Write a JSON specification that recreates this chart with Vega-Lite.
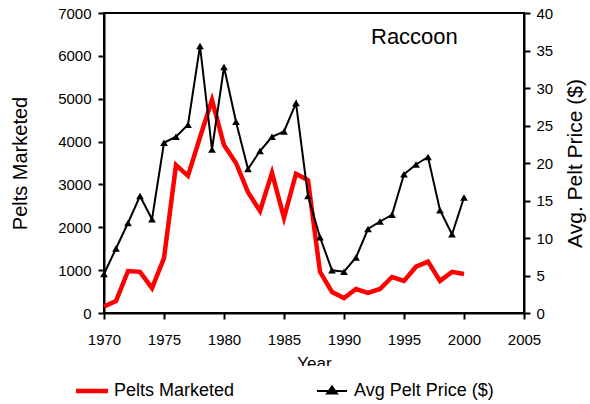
{
  "$schema": "https://vega.github.io/schema/vega-lite/v6.json",
  "width": 420,
  "height": 300,
  "autosize": {"type": "none"},
  "padding": {"left": 104, "top": 13, "right": 66, "bottom": 91},
  "background": "white",
  "title": {"text": "Raccoon", "anchor": "start", "frame": "group", "dx": 267, "offset": -43, "fontSize": 22, "font": "Liberation Sans", "fontWeight": "normal", "color": "black"},
  "config": {
    "font": "Liberation Sans",
    "view": {"stroke": "black", "strokeWidth": 2},
    "axis": {"grid": false, "domainColor": "black", "domainWidth": 2, "tickColor": "black", "tickWidth": 2, "labelFont": "Liberation Sans", "labelFontSize": 15, "labelColor": "black", "titleFont": "Liberation Sans", "titleFontSize": 20, "titleFontWeight": "normal", "titleColor": "black", "labelFlush": false}
  },
  "data": {"values": [
    {"year": 1970, "pelts": 150, "price": 5.2},
    {"year": 1971, "pelts": 280, "price": 8.6},
    {"year": 1972, "pelts": 980, "price": 12.0},
    {"year": 1973, "pelts": 960, "price": 15.6},
    {"year": 1974, "pelts": 580, "price": 12.5},
    {"year": 1975, "pelts": 1280, "price": 22.7},
    {"year": 1976, "pelts": 3450, "price": 23.5},
    {"year": 1977, "pelts": 3200, "price": 25.1},
    {"year": 1978, "pelts": 4100, "price": 35.6},
    {"year": 1979, "pelts": 4970, "price": 21.8},
    {"year": 1980, "pelts": 3920, "price": 32.8},
    {"year": 1981, "pelts": 3500, "price": 25.5},
    {"year": 1982, "pelts": 2820, "price": 19.2},
    {"year": 1983, "pelts": 2380, "price": 21.6},
    {"year": 1984, "pelts": 3270, "price": 23.5},
    {"year": 1985, "pelts": 2220, "price": 24.2},
    {"year": 1986, "pelts": 3250, "price": 28.0},
    {"year": 1987, "pelts": 3100, "price": 15.6},
    {"year": 1988, "pelts": 960, "price": 10.1},
    {"year": 1989, "pelts": 490, "price": 5.7},
    {"year": 1990, "pelts": 350, "price": 5.5},
    {"year": 1991, "pelts": 560, "price": 7.4},
    {"year": 1992, "pelts": 470, "price": 11.2},
    {"year": 1993, "pelts": 560, "price": 12.2},
    {"year": 1994, "pelts": 840, "price": 13.1},
    {"year": 1995, "pelts": 750, "price": 18.5},
    {"year": 1996, "pelts": 1080, "price": 19.8},
    {"year": 1997, "pelts": 1200, "price": 20.8},
    {"year": 1998, "pelts": 750, "price": 13.7},
    {"year": 1999, "pelts": 960, "price": 10.5},
    {"year": 2000, "pelts": 910, "price": 15.4}
  ]},
  "resolve": {"scale": {"y": "independent"}},
  "layer": [
    {
      "mark": {"type": "line", "strokeWidth": 4.5},
      "encoding": {
        "x": {"field": "year", "type": "quantitative", "scale": {"domain": [1970, 2005], "nice": false, "zero": false},
              "axis": {"values": [1970, 1972.5, 1975, 1977.5, 1980, 1982.5, 1985, 1987.5, 1990, 1992.5, 1995, 1997.5, 2000, 2002.5, 2005],
                       "labelExpr": "datum.value % 5 === 0 ? datum.label : ''",
                       "format": "d",
                       "tickSize": {"condition": {"test": "datum.value % 5 === 0", "value": 6}, "value": 4},
                       "labelPadding": 13, "title": "Year", "titlePadding": 8, "titleFontSize": 17}},
        "y": {"field": "pelts", "type": "quantitative", "scale": {"domain": [0, 7000], "nice": false},
              "axis": {"orient": "left", "values": [0, 1000, 2000, 3000, 4000, 5000, 6000, 7000], "format": "d", "tickSize": 6, "labelPadding": 7, "title": "Pelts Marketed", "titlePadding": 27}},
        "color": {"datum": "Pelts Marketed", "type": "nominal",
                  "scale": {"domain": ["Pelts Marketed", "Avg Pelt Price ($)"], "range": ["#ff0000", "#000000"]},
                  "legend": {"orient": "none", "legendX": -37, "legendY": 353, "direction": "horizontal", "title": null,
                             "padding": 16, "fillColor": "white",
                             "labelFont": "Liberation Sans", "labelFontSize": 18, "labelColor": "black", "labelOffset": 13,
                             "symbolSize": 900, "columnPadding": 78,
                             "encode": {"symbols": {"update": {
                               "shape": {"signal": "datum.value === 'Pelts Marketed' ? 'stroke' : 'M-1,0H1M0,-0.3L0.33,0.17H-0.33Z'"},
                               "size": {"signal": "datum.value === 'Pelts Marketed' ? 1024 : 900"},
                               "strokeWidth": {"signal": "datum.value === 'Pelts Marketed' ? 4.5 : 2"},
                               "fill": {"signal": "datum.value === 'Pelts Marketed' ? 'transparent' : 'black'"}
                             }}}}}
      }
    },
    {
      "mark": {"type": "line", "strokeWidth": 2, "point": {"shape": "triangle-up", "filled": true, "size": 60, "color": "black"}},
      "encoding": {
        "x": {"field": "year", "type": "quantitative", "scale": {"domain": [1970, 2005], "nice": false, "zero": false}},
        "y": {"field": "price", "type": "quantitative", "scale": {"domain": [0, 40], "nice": false},
              "axis": {"orient": "right", "values": [0, 5, 10, 15, 20, 25, 30, 35, 40], "format": "d", "tickSize": 6, "labelPadding": 6, "title": "Avg. Pelt Price ($)", "titleFontSize": 21, "titleAngle": -90, "titlePadding": 33}},
        "color": {"datum": "Avg Pelt Price ($)", "type": "nominal"}
      }
    }
  ]
}
